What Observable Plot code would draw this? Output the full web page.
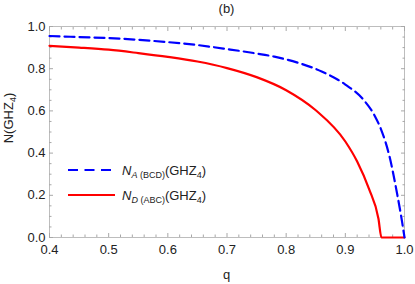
<!DOCTYPE html>
<html>
<head>
<meta charset="utf-8">
<script src="https://cdn.jsdelivr.net/npm/d3@7"></script>
<script src="https://cdn.jsdelivr.net/npm/@observablehq/plot@0.6"></script>
<style>
  html, body { margin: 0; padding: 0; background: #fff; }
</style>
</head>
<body>
<div id="chart"></div>
<script>
// ---- data ----
const qBlue = [0.40, 0.45, 0.50, 0.55, 0.60, 0.65, 0.70, 0.75, 0.78, 0.82, 0.86, 0.90, 0.93, 0.95, 0.96, 0.975, 0.987, 0.996, 1.0];
const nBlue = [0.955, 0.950, 0.945, 0.937, 0.926, 0.912, 0.893, 0.872, 0.857, 0.828, 0.787, 0.725, 0.655, 0.575, 0.515, 0.38, 0.215, 0.073, 0.0];
const qRed = [0.40, 0.45, 0.50, 0.55, 0.60, 0.65, 0.70, 0.75, 0.80, 0.85, 0.90, 0.92, 0.94, 0.956, 0.961, 1.0];
const nRed = [0.908, 0.900, 0.890, 0.874, 0.856, 0.834, 0.803, 0.760, 0.698, 0.603, 0.455, 0.36, 0.23, 0.089, 0.0, 0.0];
const xTicks = [0.4, 0.5, 0.6, 0.7, 0.8, 0.9, 1.0];
const yTicks = [0.0, 0.2, 0.4, 0.6, 0.8, 1.0];
const xMinor = [0.42,0.44,0.46,0.48,0.52,0.54,0.56,0.58,0.62,0.64,0.66,0.68,0.72,0.74,0.76,0.78,0.82,0.84,0.86,0.88,0.92,0.94,0.96,0.98];
const yMinor = [0.05,0.10,0.15,0.25,0.30,0.35,0.45,0.50,0.55,0.65,0.70,0.75,0.85,0.90,0.95];
const seriesLabels = [
  {main: "N", sub: "A", paren: " (BCD)"},
  {main: "N", sub: "D", paren: " (ABC)"}
];
const panelLabel = "(b)";
const xLabel = "q";

const blueData = qBlue.map((q, i) => ({q, n: nBlue[i]}));
const redData = qRed.map((q, i) => ({q, n: nRed[i]}));

const W = 415, H = 284;
const mL = 49, mR = 11, mT = 26, mB = 47;
const frameCol = "#bdbdbd";
const tickCol = "#a8a8a8";
const txtCol = "#222";
const font = "'Liberation Sans', Arial, sans-serif";

const plot = Plot.plot({
  width: W, height: H,
  marginLeft: mL, marginRight: mR, marginTop: mT, marginBottom: mB,
  x: {domain: [0.4, 1.0]},
  y: {domain: [0, 1]},
  style: {fontFamily: font, fontSize: "13px", background: "#fff", color: txtCol},
  marks: [
    Plot.frame({stroke: frameCol}),
    // inward major ticks on all four sides
    Plot.axisX(xTicks, {anchor: "bottom", tickSize: 4, dy: -4, tickFormat: () => "", stroke: tickCol, label: null}),
    Plot.axisX(xTicks, {anchor: "top", tickSize: 4, dy: 4, tickFormat: () => "", stroke: tickCol, label: null}),
    Plot.axisY(yTicks, {anchor: "left", tickSize: 4, dx: 4, tickFormat: () => "", stroke: tickCol, label: null}),
    Plot.axisY(yTicks, {anchor: "right", tickSize: 4, dx: -4, tickFormat: () => "", stroke: tickCol, label: null}),
    // inward minor ticks
    Plot.axisX(xMinor, {anchor: "bottom", tickSize: 2.5, dy: -2.5, tickFormat: () => "", stroke: tickCol, label: null}),
    Plot.axisX(xMinor, {anchor: "top", tickSize: 2.5, dy: 2.5, tickFormat: () => "", stroke: tickCol, label: null}),
    Plot.axisY(yMinor, {anchor: "left", tickSize: 2.5, dx: 2.5, tickFormat: () => "", stroke: tickCol, label: null}),
    Plot.axisY(yMinor, {anchor: "right", tickSize: 2.5, dx: -2.5, tickFormat: () => "", stroke: tickCol, label: null}),
    // tick labels
    Plot.axisX(xTicks, {anchor: "bottom", tickSize: 0, tickPadding: 7, tickFormat: ".1f", fill: txtCol, fontSize: 13, label: null}),
    Plot.axisY(yTicks, {anchor: "left", tickSize: 0, tickPadding: 4, tickFormat: ".1f", fill: txtCol, fontSize: 13, label: null}),
    // curves
    Plot.line(redData, {x: "q", y: "n", stroke: "#ff0000", strokeWidth: 2.2, curve: "monotone-x"}),
    Plot.line(blueData, {x: "q", y: "n", stroke: "#0000ff", strokeWidth: 2.2, strokeDasharray: "10,5", curve: "monotone-x"})
  ]
});

document.getElementById("chart").appendChild(plot);

// ---- annotations with sub/superscripts ----
const svg = d3.select(plot);
const cx = mL + (W - mL - mR) / 2;

svg.append("text").attr("x", cx).attr("y", 13).attr("text-anchor", "middle")
  .attr("font-family", font).attr("font-size", 13).attr("fill", txtCol).text(panelLabel);

svg.append("text").attr("x", cx).attr("y", 279).attr("text-anchor", "middle")
  .attr("font-family", font).attr("font-size", 13).attr("fill", txtCol).text(xLabel);

// y label N(GHZ4)
const yl = svg.append("text").attr("transform", `translate(13,118) rotate(-90)`)
  .attr("text-anchor", "middle").attr("font-family", font).attr("font-size", 13).attr("fill", txtCol);
yl.append("tspan").text("N(GHZ");
yl.append("tspan").attr("font-size", 9).attr("dy", 3).text("4");
yl.append("tspan").attr("dy", -3).text(")");

// legend
const legendRows = [
  {y: 170, color: "#0000ff", dash: "10,6.5", len: 43},
  {y: 195, color: "#ff0000", dash: null, len: 47}
];
legendRows.forEach((r, i) => {
  const ln = svg.append("line").attr("x1", 68).attr("x2", 68 + r.len)
    .attr("y1", r.y).attr("y2", r.y).attr("stroke", r.color).attr("stroke-width", 2.2);
  if (r.dash) ln.attr("stroke-dasharray", r.dash);
  const lab = seriesLabels[i];
  const t = svg.append("text").attr("x", 122).attr("y", r.y + 5).attr("text-anchor", "start")
    .attr("font-family", font).attr("font-size", 13).attr("fill", txtCol);
  t.append("tspan").attr("font-style", "italic").text(lab.main);
  t.append("tspan").attr("font-style", "italic").attr("font-size", 9).attr("dy", 3).text(lab.sub);
  t.append("tspan").attr("font-size", 9).text(lab.paren);
  t.append("tspan").attr("dy", -3).text("(GHZ");
  t.append("tspan").attr("font-size", 9).attr("dy", 3).text("4");
  t.append("tspan").attr("dy", -3).text(")");
});
</script>
</body>
</html>
